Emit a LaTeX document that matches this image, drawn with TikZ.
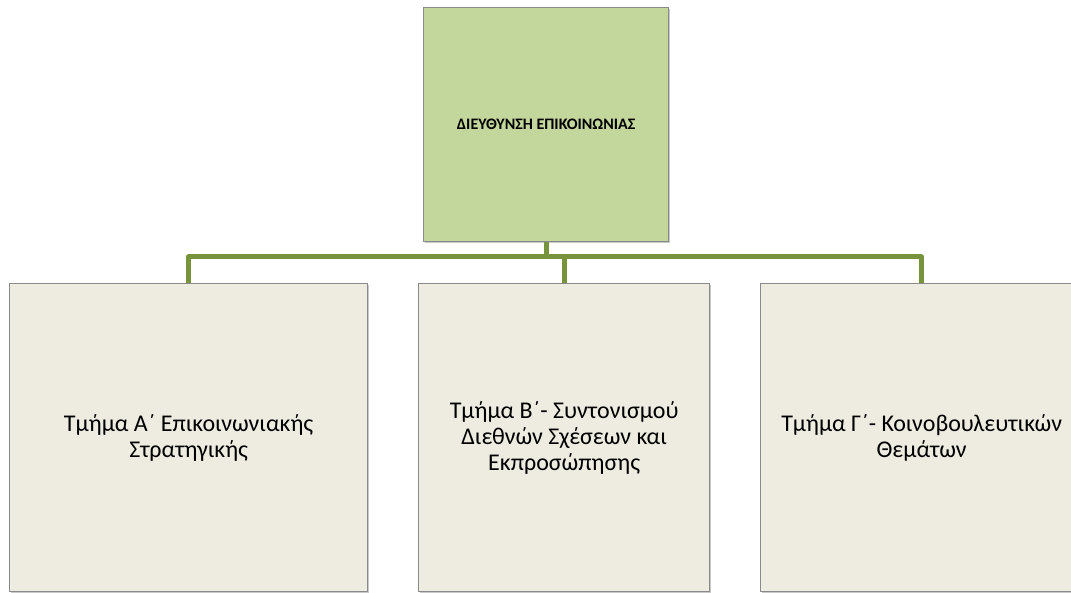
\documentclass[tikz,border=0pt]{standalone}
\usepackage{fontspec}
\setmainfont{Carlito}
\usetikzlibrary{shadows}
\definecolor{topfill}{HTML}{C3D69B}
\definecolor{childfill}{HTML}{EEECE1}
\definecolor{boxborder}{HTML}{8A8A8A}
\definecolor{conngreen}{HTML}{77933C}
\begin{document}
\begin{tikzpicture}[x=1pt,y=-1pt,
  boxbase/.style={draw=boxborder, line width=1.3pt, anchor=north west, inner sep=4pt,
    drop shadow={shadow xshift=1.5pt, shadow yshift=-1.5pt, opacity=0.35, fill=black!60}},
  topbox/.style={boxbase, fill=topfill, font=\fontsize{16}{19}\selectfont\bfseries},
  childbox/.style={boxbase, fill=childfill, align=center, font=\fontsize{24}{26}\selectfont},
  conn/.style={draw=conngreen, line width=5pt, line join=round}]
\useasboundingbox (0,0) rectangle (1071,593);
\fill[white] (0,0) rectangle (1071,593);
\node[topbox, minimum width=245pt, minimum height=234pt] (top) at (423,7) {ΔΙΕΥΘΥΝΣΗ ΕΠΙΚΟΙΝΩΝΙΑΣ};
\node[childbox, minimum width=358pt, minimum height=308pt] (c1) at (9,283) {Τμήμα Α΄ Επικοινωνιακής\\Στρατηγικής};
\node[childbox, minimum width=291pt, minimum height=308pt] (c2) at (418,283) {Τμήμα Β΄- Συντονισμού\\Διεθνών Σχέσεων και\\Εκπροσώπησης};
\node[childbox, minimum width=322pt, minimum height=308pt] (c3) at (760,283) {Τμήμα Γ΄- Κοινοβουλευτικών\\Θεμάτων};
\coordinate (bar) at (0,257);
\draw[conn] (top.south) -- (top.south |- bar);
\draw[conn] (c1.north) -- (c1.north |- bar) -- (c3.north |- bar) -- (c3.north);
\draw[conn] (c2.north |- bar) -- (c2.north);
\end{tikzpicture}
\end{document}
